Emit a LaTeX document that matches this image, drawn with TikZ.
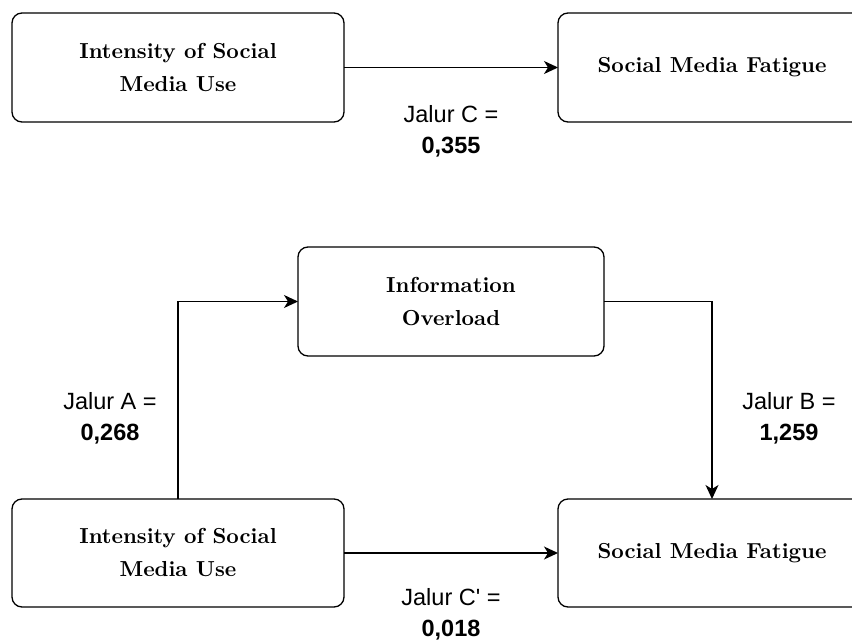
\documentclass[tikz,border=0pt]{standalone}
\usepackage{fontspec}
\setsansfont{Liberation Sans}[Ligatures=TeXOff]
\newfontfamily\boxfont{lmroman10-bold.otf}
\usetikzlibrary{arrows.meta}

\begin{document}
\begin{tikzpicture}[x=1pt,y=-1pt,
    varbox/.style={draw,line width=1.3pt,rounded corners=10pt,inner sep=0pt,outer sep=0pt,
        align=center,font=\boxfont\fontsize{21.7}{33}\selectfont},
    pathlbl/.style={align=center,font=\sffamily\fontsize{23.5}{31}\selectfont},
    arrow/.style={-{Stealth[length=14pt,width=13pt,inset=4pt]},line width=1.3pt}]

        \clip (0,0) rectangle (852,642);

        % nodes
        \node [varbox,minimum width=332pt,minimum height=109pt] (isu1) at (178, 67.5) {Intensity of Social\\Media Use};
        \node [varbox,minimum width=308pt,minimum height=109pt] (smf1) at (712, 67.5) {Social Media Fatigue};

        \node [varbox,minimum width=306pt,minimum height=109pt] (io) at (451, 301.5) {Information\\Overload};

        \node [varbox,minimum width=332pt,minimum height=108pt] (isu2) at (178, 553) {Intensity of Social\\Media Use};
        \node [varbox,minimum width=308pt,minimum height=108pt] (smf2) at (712, 553) {Social Media Fatigue};

        % labels
        \node [pathlbl] (lc) at (451, 131) {Jalur C =\\\textbf{0,355}};
        \node [pathlbl] (la) at (110, 418) {Jalur A =\\\textbf{0,268}};
        \node [pathlbl] (lb) at (789, 418) {Jalur B =\\\textbf{1,259}};
        \node [pathlbl] (lcc) at (451, 614) {Jalur C' =\\\textbf{0,018}};

        % arrows
        \draw [arrow] (isu1) -- (smf1);
        \draw [arrow] (isu2.north) |- (io.west);
        \draw [arrow] (io.east) -| (smf2.north);
        \draw [arrow] (isu2) -- (smf2);
    \end{tikzpicture}
\end{document}
